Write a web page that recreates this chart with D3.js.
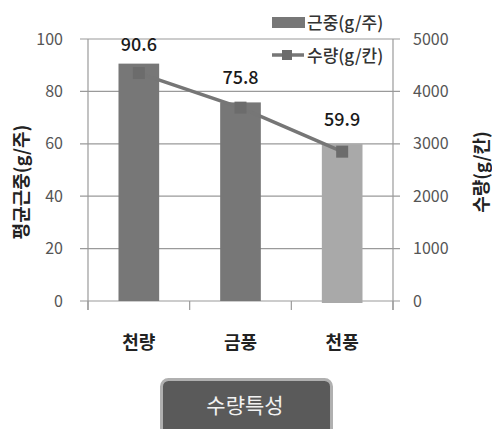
<!DOCTYPE html>
<html>
<head>
<meta charset="utf-8">
<script src="https://cdn.jsdelivr.net/npm/d3@7"></script>
<style>
  body { margin: 0; background: #fff; }
  text { font-family: "Noto Sans CJK KR", "Noto Sans", sans-serif; }
</style>
</head>
<body>
<svg id="canvas" width="492" height="429"></svg>
<script>
let categories = ['천량', '금풍', '천풍']
let rootWeight = [90.6, 75.8, 59.9]      // 근중 (g/주)
let yieldValues = [4350, 3690, 2850]     // 수량 (g/칸)
let barColors = ['#777777', '#777777', '#a9a9a9']
let leftTicks = [0, 20, 40, 60, 80, 100]
let rightTicks = [0, 1000, 2000, 3000, 4000, 5000]

let canvas = d3.select('#canvas')

let plotLeft = 88, plotRight = 393, plotTop = 39, plotBottom = 301

let xScale = d3.scaleBand().domain(categories).range([plotLeft, plotRight]).paddingInner(0.6).paddingOuter(0.3)
let yLeft = d3.scaleLinear().domain([0, 100]).range([plotBottom, plotTop])
let yRight = d3.scaleLinear().domain([0, 5000]).range([plotBottom, plotTop])

// gridlines
canvas.selectAll('.grid')
    .data(leftTicks)
    .enter()
    .append('line')
    .attr('x1', plotLeft - 8)
    .attr('x2', plotRight + 7)
    .attr('y1', d => yLeft(d))
    .attr('y2', d => yLeft(d))
    .attr('stroke', '#9a9a9a')
    .attr('stroke-width', 1.2)

// axis lines
canvas.append('line').attr('x1', plotLeft).attr('x2', plotLeft).attr('y1', plotTop).attr('y2', plotBottom + 9)
    .attr('stroke', '#9a9a9a').attr('stroke-width', 1.2)
canvas.append('line').attr('x1', plotRight).attr('x2', plotRight).attr('y1', plotTop).attr('y2', plotBottom + 9)
    .attr('stroke', '#9a9a9a').attr('stroke-width', 1.2)

// category separators on x axis
canvas.selectAll('.xtick')
    .data(d3.range(categories.length + 1))
    .enter()
    .append('line')
    .attr('x1', i => plotLeft + i * (plotRight - plotLeft) / categories.length)
    .attr('x2', i => plotLeft + i * (plotRight - plotLeft) / categories.length)
    .attr('y1', plotBottom)
    .attr('y2', plotBottom + 9)
    .attr('stroke', '#9a9a9a')
    .attr('stroke-width', 1.2)

// left tick labels
canvas.selectAll('.ly')
    .data(leftTicks)
    .enter()
    .append('text')
    .attr('x', plotLeft - 25)
    .attr('y', d => yLeft(d))
    .attr('dy', '0.35em')
    .attr('text-anchor', 'end')
    .attr('font-size', 16)
    .attr('fill', '#555')
    .text(d => d)

// right tick labels
canvas.selectAll('.ry')
    .data(rightTicks)
    .enter()
    .append('text')
    .attr('x', plotRight + 20)
    .attr('y', d => yRight(d))
    .attr('dy', '0.35em')
    .attr('text-anchor', 'start')
    .attr('font-size', 16)
    .attr('fill', '#555')
    .text(d => d)

// bars
canvas.selectAll('.bar')
    .data(categories)
    .enter()
    .append('rect')
    .attr('x', d => xScale(d))
    .attr('width', xScale.bandwidth())
    .attr('y', (d, i) => yLeft(rootWeight[i]))
    .attr('height', (d, i) => plotBottom - yLeft(rootWeight[i]) + (i === 2 ? 2 : 0))
    .attr('fill', (d, i) => barColors[i])

// bar value labels
canvas.selectAll('.val')
    .data(categories)
    .enter()
    .append('text')
    .attr('x', d => xScale(d) + xScale.bandwidth() / 2)
    .attr('y', (d, i) => Math.max(yLeft(rootWeight[i]) - 18, 51))
    .attr('text-anchor', 'middle')
    .attr('font-size', 18)
    .attr('font-weight', 500)
    .attr('fill', '#1a1a1a')
    .text((d, i) => rootWeight[i])

// yield line
let line = d3.line()
    .x((d, i) => xScale(categories[i]) + xScale.bandwidth() / 2)
    .y(d => yRight(d))

canvas.append('path')
    .attr('d', line(yieldValues))
    .attr('fill', 'none')
    .attr('stroke', '#767676')
    .attr('stroke-width', 3.5)

canvas.selectAll('.marker')
    .data(yieldValues)
    .enter()
    .append('rect')
    .attr('x', (d, i) => xScale(categories[i]) + xScale.bandwidth() / 2 - 6)
    .attr('y', d => yRight(d) - 6)
    .attr('width', 12)
    .attr('height', 12)
    .attr('fill', '#6c6c6c')

// category labels
canvas.selectAll('.cat')
    .data(categories)
    .enter()
    .append('text')
    .attr('x', d => xScale(d) + xScale.bandwidth() / 2)
    .attr('y', 343)
    .attr('dy', '0.35em')
    .attr('text-anchor', 'middle')
    .attr('font-size', 18)
    .attr('font-weight', 'bold')
    .attr('fill', '#222')
    .text(d => d)

// axis titles
canvas.append('text')
    .attr('transform', 'translate(22,182) rotate(-90)')
    .attr('dy', '0.35em')
    .attr('text-anchor', 'middle')
    .attr('font-size', 18)
    .attr('font-weight', 'bold')
    .attr('fill', '#222')
    .text('평균근중(g/주)')

canvas.append('text')
    .attr('transform', 'translate(482,172) rotate(-90)')
    .attr('dy', '0.35em')
    .attr('text-anchor', 'middle')
    .attr('font-size', 18)
    .attr('font-weight', 'bold')
    .attr('fill', '#222')
    .text('수량(g/칸)')

// legend
let legend = canvas.append('g')
legend.append('rect').attr('x', 272).attr('y', 17).attr('width', 33).attr('height', 11).attr('fill', '#777')
legend.append('text').attr('x', 307).attr('y', 23).attr('dy', '0.35em')
    .attr('font-size', 17).attr('font-weight', 500).attr('fill', '#333').text('근중(g/주)')
legend.append('line').attr('x1', 272).attr('x2', 304).attr('y1', 55).attr('y2', 55)
    .attr('stroke', '#767676').attr('stroke-width', 3.5)
legend.append('rect').attr('x', 282).attr('y', 50).attr('width', 10).attr('height', 10).attr('fill', '#6c6c6c')
legend.append('text').attr('x', 307).attr('y', 56).attr('dy', '0.35em')
    .attr('font-size', 17).attr('font-weight', 500).attr('fill', '#333').text('수량(g/칸)')

// bottom button
canvas.append('rect')
    .attr('x', 161.5).attr('y', 379.5).attr('width', 170).attr('height', 60)
    .attr('rx', 7)
    .attr('fill', '#5a5a5a')
    .attr('stroke', '#b0b0b0')
    .attr('stroke-width', 3)
canvas.append('text')
    .attr('x', 245).attr('y', 406).attr('dy', '0.35em')
    .attr('text-anchor', 'middle')
    .attr('font-size', 21)
    .attr('fill', '#f2f2f2')
    .text('수량특성')
</script>
</body>
</html>
